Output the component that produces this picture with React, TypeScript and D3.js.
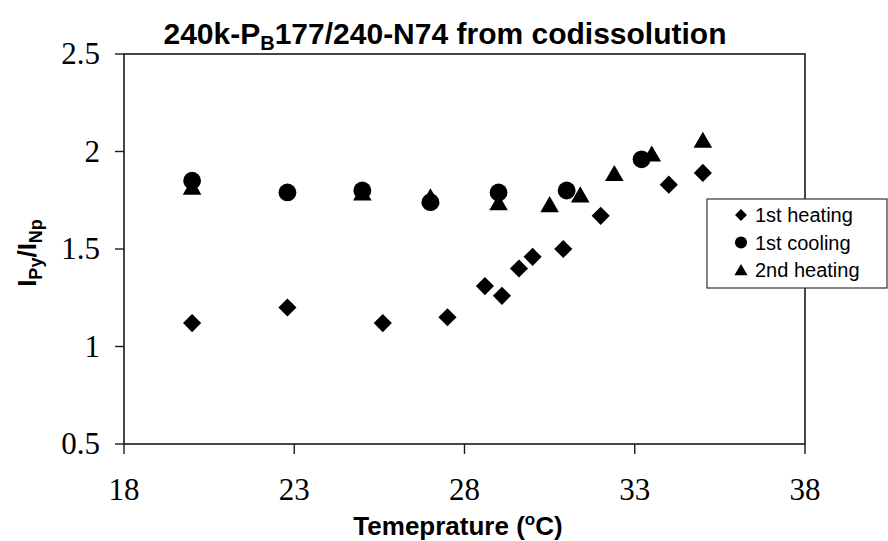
import React from "react";
import * as d3 from "d3";

const heat1X = [20, 22.8, 25.6, 27.5, 28.6, 29.1, 29.6, 30, 30.9, 32, 34, 35];
const heat1Y = [1.12, 1.2, 1.12, 1.15, 1.31, 1.26, 1.4, 1.46, 1.5, 1.67, 1.83, 1.89];
const cool1X = [20, 22.8, 25, 27, 29, 31, 33.2];
const cool1Y = [1.85, 1.79, 1.8, 1.74, 1.79, 1.8, 1.96];
const heat2X = [20, 25, 27, 29, 30.5, 31.4, 32.4, 33.5, 35];
const heat2Y = [1.82, 1.79, 1.77, 1.74, 1.73, 1.78, 1.89, 1.99, 2.06];

const xTicks = [18, 23, 28, 33, 38];
const yTicks = [0.5, 1, 1.5, 2, 2.5];
const legendLabels = ["1st heating", "1st cooling", "2nd heating"];

const W = 888;
const H = 541;
const L = 124, R = 805, T = 54, B = 444;

export default function App() {
  const x = d3.scaleLinear().domain([18, 38]).range([L, R]);
  const y = d3.scaleLinear().domain([0.5, 2.5]).range([B, T]);

  const diamond = d3.symbol().type(d3.symbolSquare).size(165)();
  const circle = d3.symbol().type(d3.symbolCircle).size(250)();
  const triSize = 150;
  const tri = d3.symbol().type(d3.symbolTriangle).size(triSize)();
  const triSide = Math.sqrt((triSize * 4) / Math.sqrt(3));
  const triH = (triSide * Math.sqrt(3)) / 2;
  const triOff = triH / 6;

  const lDiamond = d3.symbol().type(d3.symbolSquare).size(70)();
  const lCircle = d3.symbol().type(d3.symbolCircle).size(115)();
  const lTri = d3.symbol().type(d3.symbolTriangle).size(75)();

  const serif = "'Liberation Serif', 'Times New Roman', serif";
  const sans = "'Liberation Sans', Arial, sans-serif";

  return (
    <svg width={W} height={H} style={{ position: "absolute", left: 0, top: 0, background: "#fff" }}>
      <rect x={0} y={0} width={W} height={H} fill="#fff" />
      {/* title */}
      <text x={445} y={44} textAnchor="middle" fontFamily={sans} fontWeight="bold" fontSize={30} fill="#000">
        240k-P<tspan fontSize={20} dy={6}>B</tspan><tspan dy={-6}>177/240-N74 from codissolution</tspan>
      </text>

      {/* frame */}
      <rect x={L} y={T} width={R - L} height={B - T} fill="none" stroke="#1a1a1a" strokeWidth={1.6} />

      {/* y ticks */}
      {yTicks.map((t) => (
        <g key={"y" + t}>
          <line x1={L - 9} x2={L} y1={y(t)} y2={y(t)} stroke="#1a1a1a" strokeWidth={1.4} />
          <text x={100} y={y(t) + 10} textAnchor="end" fontFamily={serif} fontSize={31} fill="#000">
            {d3.format("")(t)}
          </text>
        </g>
      ))}

      {/* x ticks */}
      {xTicks.map((t) => (
        <g key={"x" + t}>
          <line x1={x(t)} x2={x(t)} y1={B} y2={B + 10} stroke="#1a1a1a" strokeWidth={1.4} />
          <text x={x(t)} y={500} textAnchor="middle" fontFamily={serif} fontSize={31} fill="#000">
            {t}
          </text>
        </g>
      ))}

      {/* axis titles */}
      <text x={458} y={535} textAnchor="middle" fontFamily={sans} fontWeight="bold" fontSize={26} fill="#000">
        Temeprature (<tspan fontSize={17} dy={-10}>o</tspan><tspan dy={10}>C)</tspan>
      </text>
      <text transform={`translate(36,${253}) rotate(-90)`} textAnchor="middle" fontFamily={sans} fontWeight="bold" fontSize={26} fill="#000">
        I<tspan fontSize={18} dy={6}>Py</tspan><tspan dy={-6}>/I</tspan><tspan fontSize={18} dy={6}>Np</tspan>
      </text>

      {/* data */}
      {heat1X.map((v, i) => (
        <path key={"h1" + i} d={diamond} transform={`translate(${x(v)},${y(heat1Y[i])}) rotate(45)`} fill="#000" />
      ))}
      {cool1X.map((v, i) => (
        <path key={"c1" + i} d={circle} transform={`translate(${x(v)},${y(cool1Y[i])})`} fill="#000" />
      ))}
      {heat2X.map((v, i) => (
        <path key={"h2" + i} d={tri} transform={`translate(${x(v)},${y(heat2Y[i]) + triOff})`} fill="#000" />
      ))}

      {/* legend */}
      <rect x={707} y={199} width={180} height={89} fill="#fff" stroke="#333" strokeWidth={1.2} />
      {legendLabels.map((lab, i) => {
        const cy = 215 + i * 27.5;
        const mk = i === 0 ? lDiamond : i === 1 ? lCircle : lTri;
        const tr = i === 0 ? `translate(741,${cy}) rotate(45)` : i === 1 ? `translate(741,${cy})` : `translate(741,${cy + 1.5})`;
        return (
          <g key={lab}>
            <path d={mk} transform={tr} fill="#000" />
            <text x={755} y={cy + 7} fontFamily={sans} fontSize={20} fill="#000">
              {lab}
            </text>
          </g>
        );
      })}
    </svg>
  );
}
